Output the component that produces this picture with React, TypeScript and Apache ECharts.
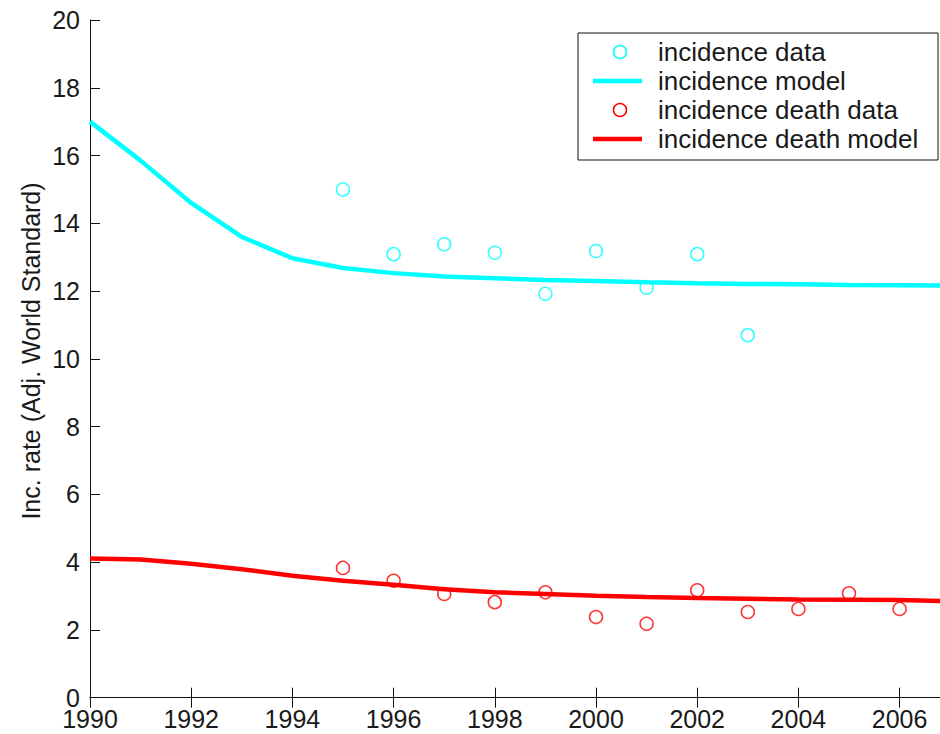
import React, { useEffect, useRef } from "react";
import * as echarts from "echarts";

const modelYears = [1990, 1991, 1992, 1993, 1994, 1995, 1996, 1997, 1998, 1999, 2000, 2001, 2002, 2003, 2004, 2005, 2006, 2007];
const incidenceModel = [17.0, 15.85, 14.6, 13.6, 12.97, 12.68, 12.53, 12.43, 12.38, 12.33, 12.3, 12.26, 12.23, 12.21, 12.2, 12.18, 12.17, 12.16];
const deathModel = [4.11, 4.08, 3.95, 3.79, 3.6, 3.45, 3.33, 3.2, 3.11, 3.06, 3.01, 2.97, 2.94, 2.92, 2.9, 2.89, 2.88, 2.85];

const incidenceYears = [1995, 1996, 1997, 1998, 1999, 2000, 2001, 2002, 2003];
const incidenceData = [15.0, 13.09, 13.38, 13.13, 11.92, 13.18, 12.1, 13.09, 10.7];

const deathYears = [1995, 1996, 1997, 1998, 1999, 2000, 2001, 2002, 2003, 2004, 2005, 2006];
const deathData = [3.83, 3.45, 3.06, 2.82, 3.11, 2.38, 2.18, 3.17, 2.53, 2.62, 3.08, 2.62];

const legendLabels = ["incidence data", "incidence model", "incidence death data", "incidence death model"];
const yLabel = "Inc. rate (Adj. World Standard)";

const CYAN = "#00ffff";
const RED = "#ff0000";
const FONT = "'Liberation Sans', Arial, sans-serif";
const TXT = "#1a1a1a";

export default function App() {
  const ref = useRef<HTMLDivElement>(null);
  useEffect(() => {
    if (!ref.current) return;
    const chart = echarts.init(ref.current, undefined, { renderer: "svg" });
    const pair = (xs: number[], ys: number[]) => xs.map((x, i) => [x, ys[i]]);
    const axisLine = { show: true, lineStyle: { color: "#111", width: 1 } };
    const axisTick = { show: true, inside: true, length: 10, lineStyle: { color: "#111", width: 1 } };
    const rowY = [52, 81, 110, 139];
    const legendGraphics: any[] = [
      {
        type: "rect",
        shape: { x: 578, y: 33, width: 360, height: 127 },
        style: { fill: "#fff", stroke: "#111", lineWidth: 1 },
        z: 100,
      },
      { type: "circle", shape: { cx: 620, cy: rowY[0], r: 6.5 }, style: { fill: "none", stroke: CYAN, lineWidth: 1.5 }, z: 101 },
      { type: "line", shape: { x1: 593, y1: rowY[1], x2: 642, y2: rowY[1] }, style: { stroke: CYAN, lineWidth: 4.5 }, z: 101 },
      { type: "circle", shape: { cx: 620, cy: rowY[2], r: 6.5 }, style: { fill: "none", stroke: RED, lineWidth: 1.5 }, z: 101 },
      { type: "line", shape: { x1: 593, y1: rowY[3], x2: 642, y2: rowY[3] }, style: { stroke: RED, lineWidth: 4.5 }, z: 101 },
      ...legendLabels.map((t, i) => ({
        type: "text",
        x: 658,
        y: rowY[i],
        style: { text: t, font: `26px ${FONT}`, fill: TXT, align: "left", verticalAlign: "middle" },
        z: 101,
      })),
      {
        type: "text",
        x: 31,
        y: 351,
        rotation: Math.PI / 2,
        style: { text: yLabel, font: `25px ${FONT}`, fill: TXT, align: "center", verticalAlign: "middle" },
        z: 101,
      },
    ];
    chart.setOption({
      animation: false,
      backgroundColor: "#fff",
      grid: { left: 90, top: 20, width: 860.2, height: 677.7 },
      xAxis: [
        {
          type: "value",
          min: 1990,
          max: 2007,
          interval: 2,
          position: "bottom",
          axisLine,
          axisTick,
          splitLine: { show: false },
          axisLabel: {
            show: true,
            showMaxLabel: false,
            margin: 11,
            lineHeight: 20,
            color: TXT,
            fontSize: 25,
            fontFamily: FONT,
            formatter: (v: number) => String(v),
          },
        },
        {
          type: "value",
          min: 1990,
          max: 2007,
          interval: 2,
          position: "top",
          axisLine,
          axisTick,
          splitLine: { show: false },
          axisLabel: { show: false },
        },
      ],
      yAxis: [
        {
          type: "value",
          min: 0,
          max: 20,
          interval: 2,
          position: "left",
          axisLine,
          axisTick,
          splitLine: { show: false },
          axisLabel: { margin: 10, lineHeight: 20, color: TXT, fontSize: 25, fontFamily: FONT },
        },
        {
          type: "value",
          min: 0,
          max: 20,
          interval: 2,
          position: "right",
          axisLine,
          axisTick,
          splitLine: { show: false },
          axisLabel: { show: false },
        },
      ],
      series: [
        {
          name: legendLabels[0],
          type: "scatter",
          data: pair(incidenceYears, incidenceData),
          symbol: "circle",
          symbolSize: 13,
          itemStyle: { color: "rgba(0,0,0,0)", borderColor: CYAN, borderWidth: 1.5 },
          z: 2,
        },
        {
          name: legendLabels[1],
          type: "line",
          data: pair(modelYears, incidenceModel),
          showSymbol: false,
          lineStyle: { color: CYAN, width: 4.5 },
          z: 3,
        },
        {
          name: legendLabels[2],
          type: "scatter",
          data: pair(deathYears, deathData),
          symbol: "circle",
          symbolSize: 13,
          itemStyle: { color: "rgba(0,0,0,0)", borderColor: RED, borderWidth: 1.5 },
          z: 4,
        },
        {
          name: legendLabels[3],
          type: "line",
          data: pair(modelYears, deathModel),
          showSymbol: false,
          lineStyle: { color: RED, width: 4.5 },
          z: 5,
        },
      ],
      graphic: legendGraphics,
    });
    return () => chart.dispose();
  }, []);
  return (
    <div
      style={{ position: "fixed", left: 0, top: 0, width: 940, height: 734, overflow: "hidden", background: "#fff" }}
    >
      <div ref={ref} style={{ width: 960, height: 734 }} />
    </div>
  );
}
